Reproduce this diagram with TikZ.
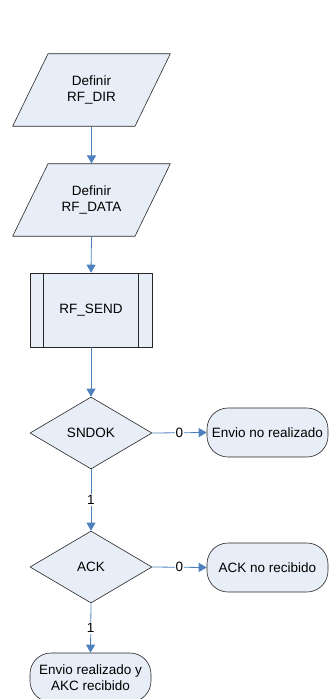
\documentclass[tikz,border=0pt]{standalone}
\usepackage{fontspec}
\setmainfont{Liberation Sans}
\usetikzlibrary{shapes.geometric,arrows.meta}
\definecolor{boxfill}{RGB}{232,238,247}
\definecolor{flowline}{RGB}{79,129,189}
\begin{document}
\begin{tikzpicture}[x=1pt, y=-1pt, font=\fontsize{13.5}{16}\selectfont, line join=round,
  >={Triangle[width=9pt,length=8pt]},
  base/.style={draw=black!85, fill=boxfill, line width=.6pt, align=center, inner sep=2pt},
  io/.style={base, trapezium, trapezium left angle=64, trapezium right angle=116, text width=60pt, inner xsep=13.5pt, inner ysep=22pt},
  sub/.style={base, rectangle, minimum width=122pt, minimum height=74pt},
  decision/.style={base, diamond, aspect=1.7, minimum width=122pt, minimum height=72pt, inner sep=0pt},
  term/.style={base, rectangle, rounded corners=21pt, minimum width=121pt, minimum height=49pt, inner sep=1pt},
  flow/.style={draw=flowline, line width=.8pt, ->},
  lbl/.style={fill=white, inner sep=1pt}]
\def\xc{91}
\useasboundingbox (0,0) rectangle (329,699);
% entradas
\node[io] (dir) at (\xc.5,90) {Definir\\RF\_DIR};
\node[io] (data) at (\xc.5,200) {Definir\\RF\_DATA};
% subproceso
\node[sub] (send) at (\xc,310) {RF\_SEND};
\draw[black!85, line width=.6pt] ([xshift=14pt]send.north west) -- ([xshift=14pt]send.south west);
\draw[black!85, line width=.6pt] ([xshift=-14pt]send.north east) -- ([xshift=-14pt]send.south east);
% decisiones
\node[decision] (sndok) at (\xc,433) {SNDOK};
\node[decision] (ack) at (\xc,567) {ACK};
% finales
\node[term] (noenv) at (267.5,432.5) {Envio no realizado};
\node[term] (noack) at (267.5,567.5) {ACK no recibido};
\node[term] (done) at (90.5,677.5) {Envio realizado y\\AKC recibido};
% flechas
\draw[flow] (dir.south) -- (data.north);
\draw[flow] (data.south) -- (send.north);
\draw[flow] (send.south) -- (sndok.north);
\draw[flow] (sndok.east) -- node[lbl] {0} (noenv.west);
\draw[flow] (sndok.south) -- node[lbl] {1} (ack.north);
\draw[flow] (ack.east) -- node[lbl] {0} (noack.west);
\draw[flow] (ack.south) -- node[lbl] {1} (done.north);
\end{tikzpicture}
\end{document}
